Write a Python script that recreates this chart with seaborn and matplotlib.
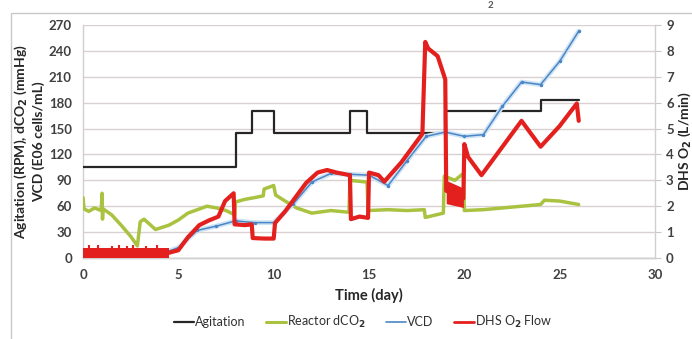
import matplotlib
matplotlib.use("Agg")
import matplotlib.pyplot as plt
from matplotlib.lines import Line2D
from matplotlib.patches import Rectangle
import pandas as pd
import seaborn as sns

# Agitation (RPM), step changes
agit_day = [0, 8.0, 8.85, 10.0, 14.0, 14.9, 19.0, 24.0, 26.0]
agit_rpm = [105, 145, 170, 145, 170, 145, 170, 183, 183]

# Reactor dCO2 (mmHg)
co2_day = [0, 0.05, 0.3, 0.6, 0.95, 1.0, 1.02, 1.05, 1.5, 2.0, 2.5, 2.85, 3.0, 3.2, 3.8,
           4.5, 5.0, 5.5, 6.0, 6.5, 7.0, 7.5, 7.95, 8.0, 8.5, 9.0, 9.45, 9.5, 10.0, 10.1,
           10.6, 11.2, 12.0, 13.0, 13.95, 14.0, 14.9, 14.95, 16.0, 17.0, 17.9, 17.95, 18.9,
           18.95, 19.5, 19.95, 20.0, 21.0, 22.0, 23.0, 24.0, 24.2, 25.0, 25.5, 26.0]
co2_mmhg = [70, 57, 54, 58, 55, 75, 45, 57, 50, 38, 25, 14, 42, 45, 33,
            38, 44, 52, 56, 60, 58, 55, 50, 65, 68, 70, 72, 80, 84, 73,
            66, 58, 52, 55, 53, 90, 88, 55, 56, 55, 56, 47, 52,
            95, 90, 98, 55, 56, 58, 60, 62, 67, 66, 64, 62]

# VCD (E06 cells/mL), daily samples
vcd_day = list(range(0, 27))
vcd_val = [1, 1.5, 2, 3, 4, 12, 32, 37, 43, 41, 41, 62, 88, 98, 97, 96, 84, 113,
           141, 146, 141, 143, 176, 204, 201, 228, 263]

# DHS O2 flow (L/min)
o2_day = [0, 4.5, 5.0, 5.5, 6.1, 6.6, 7.1, 7.45, 7.9, 7.95, 8.5, 8.85, 8.9, 9.5, 10.0,
          10.07, 10.6, 11.2, 11.7, 12.3, 12.8, 13.3, 14.0, 14.05, 14.5, 14.95, 15.0, 15.5,
          15.8, 16.7, 17.3, 17.8, 17.95, 18.1, 18.6, 19.0, 19.05, 19.95, 20.0, 20.2, 20.9,
          22.0, 23.0, 24.0, 25.0, 25.9, 26.0]
o2_flow = [0.2, 0.2, 0.3, 0.8, 1.27, 1.45, 1.6, 2.2, 2.5, 1.3, 1.27, 1.3, 0.77, 0.75, 0.75,
           1.35, 1.8, 2.4, 2.9, 3.3, 3.4, 3.3, 3.2, 1.5, 1.6, 1.55, 3.3, 3.2,
           2.95, 3.7, 4.3, 4.8, 8.35, 8.1, 7.8, 6.9, 2.6, 2.3, 4.4, 3.9, 3.2,
           4.3, 5.3, 4.3, 5.1, 5.97, 5.3]
# noisy bands of the O2 trace (L/min): low flow on days 0-4.5, high noise on days 19-20
band1_day, band1_low, band1_high = [0, 4.5], [0.0, 0.0], [0.4, 0.4]
band2_day, band2_low, band2_high = [19.05, 19.95], [2.1, 1.95], [3.0, 2.7]
# spikes in the low-flow band
spike_day = [0.3, 0.8, 1.5, 1.9, 2.3, 2.6, 3.3, 3.9]
spike_top = [0.5, 0.5, 0.45, 0.5, 0.45, 0.5, 0.45, 0.5]

BLACK = "#262626"
GREEN = "#a9c23f"
BLUE = "#4a86c5"
RED = "#e3201d"

sns.set_style("white")
plt.rcParams["font.family"] = ["Lato", "DejaVu Sans"]
plt.rcParams["font.weight"] = "bold"
plt.rcParams["axes.labelweight"] = "bold"

fig = plt.figure(figsize=(6.92, 3.39), dpi=100)
ax = fig.add_axes([0.12, 0.239, 0.8265, 0.687])
ax2 = ax.twinx()

agit = pd.DataFrame({"day": agit_day, "val": agit_rpm})
co2 = pd.DataFrame({"day": co2_day, "val": co2_mmhg})
vcd = pd.DataFrame({"day": vcd_day, "val": vcd_val})
o2 = pd.DataFrame({"day": o2_day, "val": o2_flow})

sns.lineplot(data=co2, x="day", y="val", ax=ax, color=GREEN, lw=2.5,
             estimator=None, sort=False, zorder=3)
sns.lineplot(data=agit, x="day", y="val", ax=ax, color=BLACK, lw=1.6,
             estimator=None, sort=False, drawstyle="steps-post", zorder=4)
sns.lineplot(data=vcd, x="day", y="val", ax=ax, color="#cfe3f5", lw=3.5,
             estimator=None, sort=False, zorder=4.5)
sns.lineplot(data=vcd, x="day", y="val", ax=ax, color=BLUE, lw=1.1, marker="o",
             markersize=2.5, markeredgewidth=0, estimator=None, sort=False, zorder=5)
sns.lineplot(data=o2, x="day", y="val", ax=ax2, color=RED, lw=3.0,
             estimator=None, sort=False, zorder=6)
ax2.fill_between(band1_day, band1_low, band1_high, color=RED, lw=0, zorder=6)
ax2.fill_between(band2_day, band2_low, band2_high, color=RED, lw=0, zorder=6)
ax2.vlines(spike_day, 0.0, spike_top, color=RED, lw=1.5, zorder=6)

ax.set_xlim(0, 30)
ax.set_ylim(0, 270)
ax.set_yticks(range(0, 271, 30))
ax.set_xticks(range(0, 31, 5))
ax2.set_ylim(0, 9)
ax2.set_yticks(range(0, 10))

ax.grid(axis="y", color="#d9d0d0", lw=1.0)
ax.grid(axis="x", visible=False)
ax2.grid(False)
for a in (ax, ax2):
    for side in ("left", "right", "bottom"):
        a.spines[side].set_color("#d0d0d0")
        a.spines[side].set_linewidth(1.0)
    a.spines["top"].set_visible(False)
ax2.spines["left"].set_visible(False)
ax.spines["right"].set_visible(False)

tick_kw = dict(labelsize=9.5, labelcolor="#404040", colors="#c8c8c8", length=4)
ax.tick_params(axis="x", direction="inout", pad=6, **tick_kw)
ax.tick_params(axis="y", direction="in", left=False, pad=8, **tick_kw)
ax2.tick_params(axis="y", direction="out", pad=4, **tick_kw)

ax.set_xlabel("Time (day)", fontsize=10.5, labelpad=5)
ax.set_ylabel("Agitation (RPM), dCO$_\\mathbf{2}$ (mmHg)\nVCD (E06 cells/mL)",
              fontsize=10, linespacing=1.3, labelpad=3)
ax2.set_ylabel("DHS O$_\\mathbf{2}$ (L/min)", fontsize=10, labelpad=2)

handles = [
    Line2D([], [], color=BLACK, lw=1.6),
    Line2D([], [], color=GREEN, lw=2.2),
    Line2D([], [], color=BLUE, lw=1.2),
    Line2D([], [], color=RED, lw=2.0),
]
labels = ["Agitation", "Reactor dCO$_2$", "VCD", "DHS O$_2$ Flow"]
fig.legend(handles, labels, loc="center", bbox_to_anchor=(0.525, 0.05), ncol=4,
           frameon=False, prop={"size": 9, "weight": "normal"}, handlelength=1.6,
           handletextpad=0.1, columnspacing=1.6, labelcolor="#303030")

fig.patches.append(Rectangle((11 / 692, -0.1), 1.0, 1 - 13 / 339 + 0.1,
                             transform=fig.transFigure, fill=False,
                             edgecolor="#c8c8c8", lw=1.0))
fig.text(490 / 692, 0.998, "2", fontsize=7, color="#555555", ha="center", va="top")

fig.savefig("out.png", dpi=100)
